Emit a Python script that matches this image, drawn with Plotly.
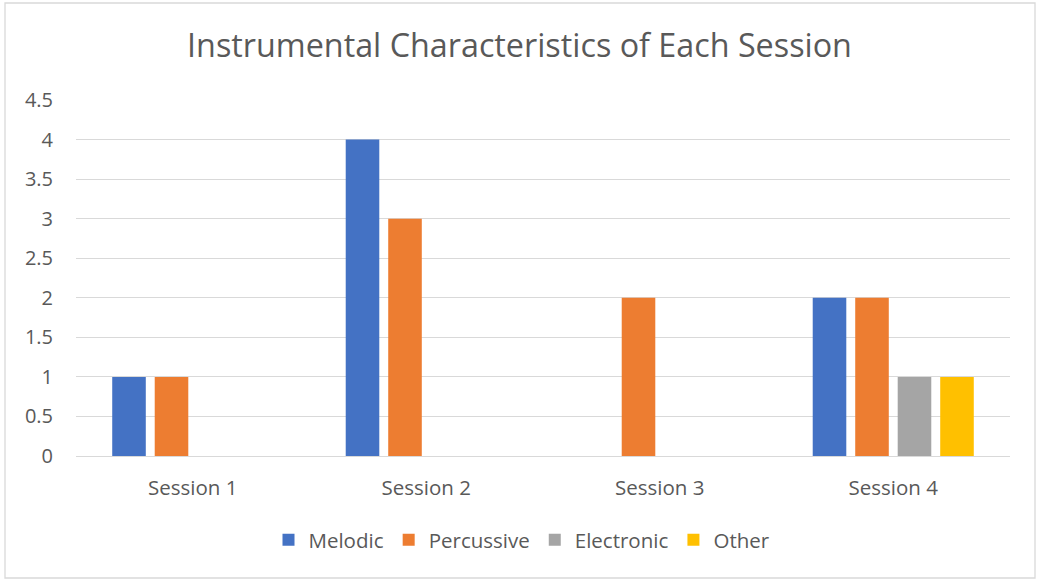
import plotly.graph_objects as go

sessions = ["Session 1", "Session 2", "Session 3", "Session 4"]
melodic = [1, 4, 0, 2]
percussive = [1, 3, 2, 2]
electronic = [0, 0, 0, 1]
other = [0, 0, 0, 1]

series = [
    ("Melodic", melodic, "#4472C4"),
    ("Percussive", percussive, "#ED7D31"),
    ("Electronic", electronic, "#A5A5A5"),
    ("Other", other, "#FFC000"),
]

FONT = "Open Sans"
TXT = "#595959"

fig = go.Figure()
for name, vals, col in series:
    fig.add_trace(go.Bar(x=sessions, y=vals, name=name, marker=dict(color=col, line=dict(width=0))))

W, H = 1039, 582
L, R, T, B = 76, 29, 100, 126
pw, ph = W - L - R, H - T - B

def px_x(p):
    return (p - L) / pw

def px_y(p):
    return (H - B - p) / ph

fig.update_layout(
    width=W, height=H,
    margin=dict(l=L, r=R, t=T, b=B, autoexpand=False),
    paper_bgcolor="white", plot_bgcolor="white",
    barmode="group", bargap=0.272, bargroupgap=0.21,
    font=dict(family=FONT, color=TXT, size=20),
    title=dict(text="Instrumental Characteristics of Each Session",
               x=0.5, xref="container", xanchor="center",
               y=1 - 46 / H, yref="container", yanchor="middle",
               font=dict(family=FONT, size=32.3, color=TXT)),
    xaxis=dict(showgrid=False, showline=False, zeroline=False, automargin=False, tickangle=0,
               tickfont=dict(size=20.5, color=TXT), ticks="", ticklabelstandoff=17),
    yaxis=dict(range=[0, 4.5], dtick=0.5, tick0=0, showgrid=True, gridcolor="#D9D9D9", gridwidth=1,
               zeroline=True, zerolinecolor="#D9D9D9", zerolinewidth=1, showline=False, automargin=False,
               tickfont=dict(size=20, color=TXT), ticks="", ticklabelstandoff=22),
    legend=dict(orientation="h", x=px_x(522), xanchor="center", xref="paper",
                y=px_y(540), yanchor="middle", yref="paper",
                font=dict(size=20.5, color=TXT), itemwidth=30, traceorder="normal"),
    shapes=[dict(type="rect", xref="paper", yref="paper",
                 x0=px_x(5), x1=px_x(1035), y0=px_y(578), y1=px_y(3),
                 line=dict(color="#D9D9D9", width=1.3), fillcolor="rgba(0,0,0,0)", layer="below")],
)

fig.write_html("out.html", config={"displayModeBar": False},
               post_script="document.body.style.margin='0px';")
